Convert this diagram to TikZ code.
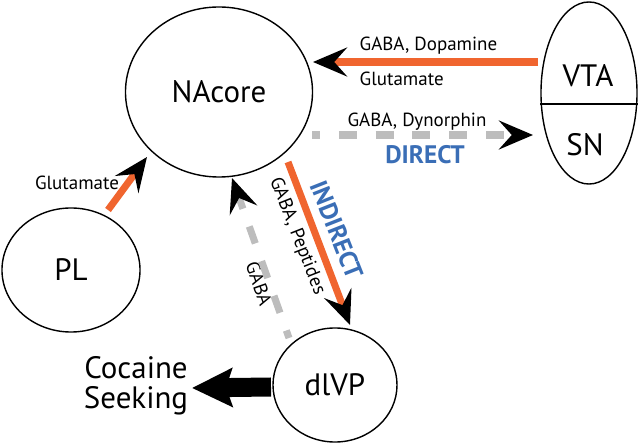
\documentclass[tikz,border=0pt]{standalone}
\usepackage{fontspec}
\setmainfont{PT Sans}
\usetikzlibrary{arrows.meta,shapes.geometric}
\definecolor{PathOrange}{HTML}{F0652F}
\definecolor{PathBlue}{HTML}{3A6EB6}
\definecolor{PathGray}{HTML}{BDBDBD}

\begin{document}
\begin{tikzpicture}[x=0.025cm,y=-0.025cm,
    >={Stealth[length=0.85cm,width=0.72cm,inset=0.32cm,color=black]}]
    \tikzset{
      region/.style={draw,ellipse,line width=1pt,inner sep=0pt,
        font=\fontsize{22}{22}\selectfont},
      bigtext/.style={font=\fontsize{22}{21}\selectfont,align=center},
      tract/.style={->,line width=5pt,PathOrange},
      gaba/.style={->,line width=5pt,PathGray,
        dash pattern=on 0.45cm off 0.47cm,dash phase=0.25cm},
      nt/.style={font=\fontsize{13.5}{13.5}\selectfont,inner sep=1pt},
      route/.style={font=\fontsize{18}{18}\selectfont\bfseries,text=PathBlue,inner sep=1pt}
    }
    \useasboundingbox (0,0) rectangle (640,446);
    % regions
    \node[region,minimum width=4.675cm,minimum height=4.25cm] (nacore) at (219,92) {NAcore};
    \node[region,minimum width=3.45cm,minimum height=3.1cm] (pl) at (71,270) {PL};
    \node[region,minimum width=3.1cm,minimum height=2.85cm] (divp) at (335,385) {dlVP};
    \node[region,minimum width=2.4cm,minimum height=4.55cm] (vtasn) at (589,93) {};
    \draw[line width=1pt] ([yshift=-0.275cm]vtasn.west) -- ([yshift=-0.275cm]vtasn.east);
    \node[bigtext] (vta) at (588,76) {VTA};
    \node[bigtext] (sn) at (585,145) {SN};
    \node[bigtext] (seek) at (136,386) {Cocaine\\Seeking};
    % labels
    \node[nt,anchor=west] (dopa) at (358,46) {GABA, Dopamine};
    \node[nt,anchor=west] (glut) at (358,79) {Glutamate};
    \node[nt] (dyn) at (417,122) {GABA, Dynorphin};
    \node[route] (direct) at (425,155) {DIRECT};
    \node[route,rotate=-68.5] (indirect) at (337,230) {INDIRECT};
    \node[nt,rotate=-68.5] (pept) at (297,236) {GABA, Peptides};
    \node[nt,rotate=-70.7] (gabaup) at (259,284) {GABA};
    \node[nt] (plglut) at (77,183) {Glutamate};
    % projections
    \draw[tract] ([shift={(-51,-31)}]vtasn.center) -- ([shift={(94,-30)}]nacore.center);
    \draw[gaba] ([shift={(93,43)}]nacore.center) -- ([shift={(-56,42)}]vtasn.center);
    \draw[tract] ([shift={(69,70)}]nacore.center) -- ([shift={(15,-60)}]divp.center);
    \draw[gaba] ([shift={(-46,-47)}]divp.center) -- ([shift={(13,86)}]nacore.center);
    \draw[tract] ([shift={(37,-60)}]pl.center) -- ([shift={(-72,65)}]nacore.center);
    \draw[-{Stealth[length=1cm,width=0.95cm,inset=0.15cm]},line width=0.475cm]
      ([shift={(-64,2)}]divp.center) -- ([shift={(56,2)}]seek.center);
  \end{tikzpicture}
\end{document}
